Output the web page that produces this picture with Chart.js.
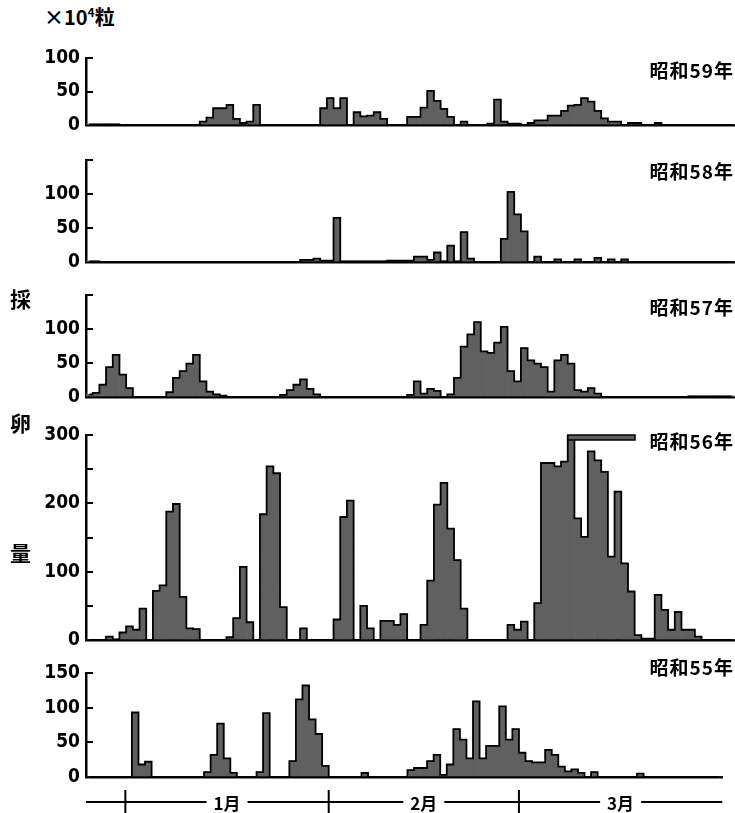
<!DOCTYPE html>
<html>
<head>
<meta charset="utf-8">
<script src="https://cdn.jsdelivr.net/npm/chart.js@4.4.1/dist/chart.umd.min.js"></script>
<style>
  body { margin: 0; background: #fff; }
  #wrap { position: relative; width: 735px; height: 813px; overflow: hidden; font-family: 'Noto Sans CJK JP', sans-serif; }
  canvas { position: absolute; left: 0; }
  .lbl { position: absolute; font-weight: bold; color: #000; white-space: nowrap; line-height: 1; z-index: 2; }
  .year { right: 1px; font-size: 19px; letter-spacing: 1px; }
  .ytitle { left: 10px; font-size: 21px; }
</style>
</head>
<body>
<div id="wrap">
  <div class="lbl" style="left:44px;top:6px;font-size:20px">×10<sup style="font-size:12px;vertical-align:8px">4</sup>粒</div>
  <div class="lbl ytitle" style="top:288px">採</div>
  <div class="lbl ytitle" style="top:412px">卵</div>
  <div class="lbl ytitle" style="top:542px">量</div>
  <div class="lbl year" style="top:60px">昭和59年</div>
  <div class="lbl year" style="top:161px">昭和58年</div>
  <div class="lbl year" style="top:297px">昭和57年</div>
  <div class="lbl year" style="top:431px">昭和56年</div>
  <div class="lbl year" style="top:657px">昭和55年</div>
  <canvas id="c59" width="735" height="91" style="top:46px"></canvas>
  <canvas id="c58" width="735" height="126" style="top:148px"></canvas>
  <canvas id="c57" width="735" height="126" style="top:283px"></canvas>
  <canvas id="c56" width="735" height="229" style="top:423px"></canvas>
  <canvas id="c55" width="735" height="152" style="top:661px"></canvas>
</div>
<script>
// days from Dec 26 to Mar 31
const monthNames = ['12月', '1月', '2月', '3月'];
const monthNums = [12, 1, 2, 3];
const monthLen = [31, 31, 29, 31];
const firstDay = 26;

// daily egg collection, x10^4 grains, one value per day
const s59 = [
  1,1,1,1,1,0,0,0,0,0,
  0,0,0,0,0,0,0,5,11,25,
  25,30,9,3,5,30,0,0,0,0,
  0,0,0,0,0,25,40,25,40,0,
  19,13,14,19,9,0,0,0,12,12,
  26,51,36,24,12,0,5,0,0,0,
  2,38,5,2,2,0,3,7,7,14,
  14,21,29,30,40,35,21,10,5,5,
  0,3,3,0,0,3,0,0,0,0,
  0,0,0,0,0,0,0
];
const s58 = [
  1,1,0,0,0,0,0,0,0,0,
  0,0,0,0,0,0,0,0,0,0,
  0,0,0,0,0,0,0,0,0,0,
  0,0,3,3,5,2,2,65,1,1,
  1,1,1,1,1,2,2,2,2,8,
  8,3,14,1,24,1,44,5,0,0,
  0,0,34,103,70,45,0,8,0,0,
  4,0,0,4,0,0,6,0,4,0,
  4,0,0,0,0,0,0,0,0,0,
  0,0,0,0,0,0,0
];
const s57 = [
  4,6,18,44,62,33,13,0,0,0,
  0,0,7,28,38,49,62,23,8,4,
  2,0,0,0,0,0,0,0,0,3,
  10,18,26,12,4,0,0,0,0,0,
  0,0,0,0,0,0,0,0,3,23,
  5,12,9,0,4,28,74,92,110,67,
  65,80,103,38,23,72,54,49,44,8,
  54,62,49,10,8,13,5,0,0,0,
  0,0,0,0,0,0,0,0,0,0,
  1,1,1,1,1,1,1
];
const s56 = [
  0,0,0,5,1,11,20,15,46,0,
  72,80,188,199,63,17,16,0,0,0,
  0,4,32,107,26,0,184,254,244,48,
  0,0,17,0,0,0,0,30,180,204,
  0,50,17,0,28,28,22,38,0,0,
  22,87,198,230,163,117,46,0,0,0,
  0,0,0,22,15,27,0,54,259,259,
  254,261,300,178,151,276,263,246,122,217,
  112,71,7,2,2,66,44,15,41,15,
  15,5,0,0,0,0,0
];
const s55 = [
  0,0,0,0,0,0,0,93,18,22,
  0,0,0,0,0,0,0,0,7,32,
  77,27,6,0,0,0,7,92,0,0,
  0,23,112,132,83,62,16,0,0,0,
  0,0,6,0,0,0,0,0,0,10,
  13,13,23,32,3,18,69,54,27,109,
  27,45,45,102,54,69,35,23,21,21,
  39,32,15,8,11,6,0,7,0,0,
  0,0,0,0,5,0,0,0,0,0,
  0,0,0,0,0,0,0
];

// y ticks (marks) and which of them carry a label
const ticks59 = [0, 50, 100], labels59 = [0, 50, 100];
const ticks58 = [0, 50, 100, 150], labels58 = [0, 50, 100];
const ticks57 = [0, 50, 100, 150], labels57 = [0, 50, 100];
const ticks56 = [0, 50, 100, 150, 200, 250, 300], labels56 = [0, 100, 200, 300];
const ticks55 = [0, 50, 100, 150], labels55 = [0, 50, 100, 150];

const days = [], monthStart = [], monthMid = [];
monthNums.forEach((m, k) => {
    const from = k === 0 ? firstDay : 1;
    monthStart.push(days.length);
    monthMid.push(days.length + Math.floor((monthLen[k] - from + 1) / 2));
    for (let d = from; d <= monthLen[k]; d++) days.push(m + '/' + d);
});
const tickText = {};
monthMid.forEach((i, k) => { if (k > 0) tickText[i] = monthNames[k]; });

const numFont = { family: "'Liberation Sans Narrow', 'DejaVu Sans Condensed', sans-serif", size: 19, weight: 'bold' };
const jpFont = { family: "'Noto Sans CJK JP', sans-serif", size: 17, weight: 'bold' };
const barFill = '#606060';

// bar that runs off the top: flat band to the right, as in the print
const overflow = {
    id: 'overflow',
    afterDatasetsDraw(chart) {
        const meta = chart.getDatasetMeta(0), ys = chart.scales.y, ctx = chart.ctx;
        chart.data.datasets[0].data.forEach((v, i) => {
            if (v < ys.max) return;
            const bar = meta.data[i];
            const x0 = bar.x - bar.width / 2, top = ys.getPixelForValue(ys.max);
            ctx.save();
            ctx.fillStyle = barFill;
            ctx.strokeStyle = '#000';
            ctx.lineWidth = 1.5;
            ctx.fillRect(x0, top, chart.chartArea.right - 100 - x0, 5);
            ctx.strokeRect(x0, top, chart.chartArea.right - 100 - x0, 5);
            ctx.restore();
        });
    }
};

// month line under the last panel
const timeline = {
    id: 'timeline',
    afterDraw(chart) {
        const sx = chart.scales.x, ctx = chart.ctx, area = chart.chartArea;
        const y = area.bottom + 25;
        const half = (sx.getPixelForValue(1) - sx.getPixelForValue(0)) / 2;
        ctx.save();
        ctx.strokeStyle = '#000';
        ctx.lineWidth = 2;
        ctx.font = 'bold 17px "Noto Sans CJK JP"';
        let x0 = area.left;
        ctx.beginPath();
        monthMid.forEach((i, k) => {
            if (k === 0) return;
            const cx = sx.getPixelForValue(i), w = ctx.measureText(monthNames[k]).width / 2 + 7;
            ctx.moveTo(x0, y);
            ctx.lineTo(cx - w, y);
            x0 = cx + w;
        });
        ctx.moveTo(x0, y);
        ctx.lineTo(area.right, y);
        monthStart.forEach((i, k) => {
            if (k === 0) return;
            const x = sx.getPixelForValue(i) - half;
            ctx.moveTo(x, y - 12);
            ctx.lineTo(x, y + 12);
        });
        ctx.stroke();
        ctx.restore();
    }
};

function makePanel(id, values, tickVals, labelVals, last) {
    const max = tickVals[tickVals.length - 1];
    return new Chart(document.getElementById(id), {
        data: {
            labels: days,
            datasets: [{
                type: 'bar',
                data: values,
                backgroundColor: barFill,
                borderWidth: 0,
                categoryPercentage: 1,
                barPercentage: 1,
                order: 2
            }, {
                type: 'line',
                data: values,
                stepped: 'middle',
                borderColor: '#000',
                borderWidth: 1.8,
                pointRadius: 0,
                fill: false,
                order: 1
            }]
        },
        options: {
            responsive: false,
            animation: false,
            layout: { padding: { top: 12, right: 0, left: 0, bottom: last ? 0 : 12 } },
            plugins: { legend: { display: false }, tooltip: { enabled: false } },
            scales: {
                x: {
                    offset: true,
                    grid: { display: true, drawOnChartArea: false, drawTicks: false },
                    border: { color: '#000', width: 2.5 },
                    ticks: {
                        display: last,
                        autoSkip: false,
                        maxRotation: 0,
                        padding: 16,
                        color: '#000',
                        font: jpFont,
                        callback: (v, i) => tickText[i] || ''
                    },
                    afterFit: s => { s.height = last ? 36 : 0; }
                },
                y: {
                    min: 0,
                    max: max,
                    afterBuildTicks: s => { s.ticks = tickVals.map(v => ({ value: v })); },
                    afterFit: s => { s.width = 86; s.paddingTop = 0; s.paddingBottom = 0; },
                    grid: { drawOnChartArea: false, tickLength: -7, color: '#000', lineWidth: 2 },
                    border: { color: '#000', width: 2.5 },
                    ticks: {
                        padding: 13,
                        color: '#000',
                        font: numFont,
                        callback: v => labelVals.includes(v) ? String(v) : ''
                    }
                }
            }
        },
        plugins: last ? [overflow, timeline] : [overflow]
    });
}

makePanel('c59', s59, ticks59, labels59, false);
makePanel('c58', s58, ticks58, labels58, false);
makePanel('c57', s57, ticks57, labels57, false);
makePanel('c56', s56, ticks56, labels56, false);
makePanel('c55', s55, ticks55, labels55, true);
</script>
</body>
</html>
